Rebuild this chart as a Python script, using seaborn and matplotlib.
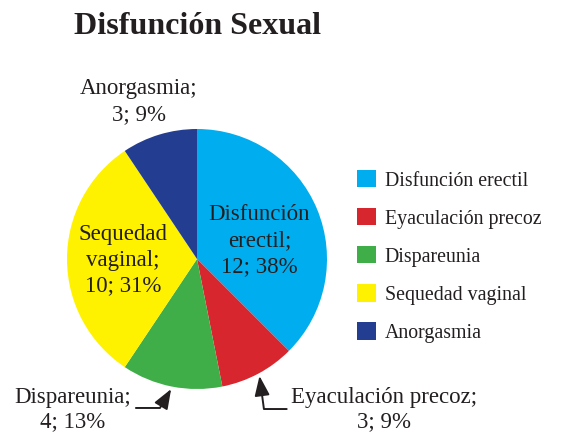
import matplotlib
matplotlib.use("Agg")
import matplotlib.pyplot as plt
import numpy as np
import seaborn as sns

# Data
categories = ["Disfunción erectil", "Eyaculación precoz", "Dispareunia",
              "Sequedad vaginal", "Anorgasmia"]
counts = [12, 3, 4, 10, 3]
percents = [38, 9, 13, 31, 9]
label_names = ["Disfunción\nerectil;", "Eyaculación precoz;", "Dispareunia;",
               "Sequedad\nvaginal;", "Anorgasmia;"]
colors = ["#00aeef", "#d7262e", "#3fae49", "#fff200", "#233e90"]
title = "Disfunción Sexual"

sns.set_theme(style="white")
plt.rcParams["font.family"] = ["Liberation Serif", "DejaVu Serif"]
text_color = "#231f20"

fig = plt.figure(figsize=(5.72, 4.32), dpi=100)
ax = fig.add_axes([67 / 572, 43 / 432, 260 / 572, 260 / 432])

wedges, _ = ax.pie(counts, colors=sns.color_palette(colors), startangle=90,
                   counterclock=False, radius=1.0,
                   wedgeprops=dict(linewidth=0))
ax.set_xlim(-1, 1)
ax.set_ylim(-1, 1)
ax.set_aspect("equal")
ax.axis("off")

def mid_angle(w):
    return np.deg2rad((w.theta1 + w.theta2) / 2)

labels = [f"{n}\n{c}; {p}%" for n, c, p in zip(label_names, counts, percents)]
fs = 16.5

# label positions (axes data units, pie radius = 1) and line spacing
label_pos = {0: (0.48, 0.14, 1.3), 3: (-0.57, -0.01, 1.3), 4: (-0.45, 1.21, 1.3),
             2: (-0.96, -1.155, 1.2), 1: (1.44, -1.155, 1.2)}
for i, (x, y, ls) in label_pos.items():
    ax.text(x, y, labels[i], ha="center", va="center", fontsize=fs,
            color=text_color, linespacing=ls, clip_on=False)

# elbow arrows for the small slices at the bottom
for i, start, corner in [(2, (-0.47, -1.146), (-0.285, -1.146)),
                         (1, (0.69, -1.154), (0.515, -1.154))]:
    a = mid_angle(wedges[i])
    tip = (1.02 * np.cos(a), 1.02 * np.sin(a))
    angB = np.degrees(np.arctan2(tip[1] - corner[1], tip[0] - corner[0]))
    ax.annotate("", xy=tip, xytext=start, annotation_clip=False,
                arrowprops=dict(arrowstyle="-|>,head_length=1.0,head_width=0.38",
                                color=text_color, lw=1.4, shrinkA=0, shrinkB=0,
                                connectionstyle=f"angle,angleA=0,angleB={angB:.1f},rad=0"))

fig.text(197 / 572, 1 - 27 / 432, title, ha="center", va="center",
         fontsize=23, fontweight="bold", color=text_color)

leg = fig.legend(wedges, categories, loc="center left",
                 bbox_to_anchor=(339 / 572, 1 - 256.5 / 432), frameon=False,
                 fontsize=14.3, handlelength=0.95, handleheight=0.95,
                 handletextpad=0.45, labelspacing=0.89)
for t in leg.get_texts():
    t.set_color(text_color)

fig.savefig("out.png", dpi=100)
